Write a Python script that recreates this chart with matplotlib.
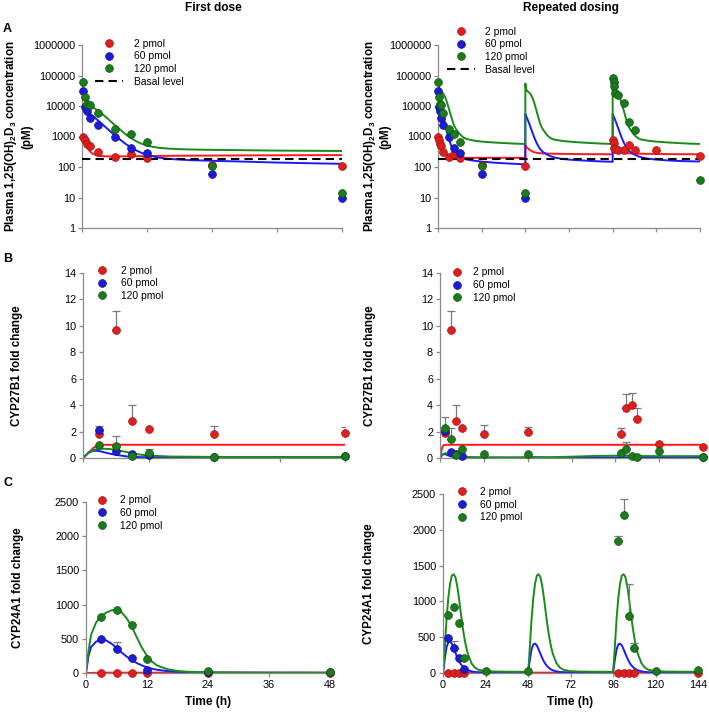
import numpy as np
import matplotlib
matplotlib.use("Agg")
import matplotlib.pyplot as plt

plt.rcParams['font.family'] = ['Liberation Sans', 'DejaVu Sans']
plt.rcParams['mathtext.fontset'] = 'custom'
plt.rcParams['mathtext.rm'] = 'Liberation Sans'
plt.rcParams['mathtext.bf'] = 'Liberation Sans:bold'

nan = np.nan
labels = ['2 pmol', '60 pmol', '120 pmol']
basal_level = 185

# ---------- A: plasma 1,25(OH)2D3, points ----------
tA_pts = [0.25, 0.5, 1, 1.5, 3, 6, 9, 12, 24, 48]
A_red = [1000, 750, 550, 480, 300, 220, 260, 200, 115, 110]
A_blue = [31000, 9000, 7000, 4000, 2300, 950, 430, 290, 58, 10]
A_green = [62000, 20000, 12000, 11000, 6000, 1800, 1250, 650, 105, 14]
tA_pts3 = [96.25, 96.5, 97, 97.5, 99, 102, 105, 108, 120, 144]
A_red3 = [780, 620, 410, 400, 360, 360, 520, 360, 350, 230]
A_green3 = [81000, 63000, 46000, 26000, 23000, 13000, 3100, 1600, nan, 37]

# A first dose, model fits
tA_fit = [0, 0.5, 1, 1.5, 2, 3, 4, 5, 6, 7, 8, 9, 10, 11, 12, 14, 16, 18, 20, 24, 30, 36, 42, 48]
A_fit_red = [900, 600, 420, 320, 270, 235, 225, 222, 222, 223, 224, 225, 226, 227, 228, 230, 232,
             234, 235, 237, 240, 242, 244, 245]
A_fit_blue = [9000, 7500, 6500, 5500, 4700, 3300, 2300, 1600, 1100, 800, 580, 440, 350, 290, 250,
              205, 185, 175, 168, 160, 150, 140, 133, 127]
A_fit_green = [12000, 11000, 10500, 10000, 9000, 7000, 5000, 3500, 2400, 1700, 1200, 900, 700, 580,
               500, 430, 400, 385, 375, 365, 355, 345, 340, 335]

# A repeated dosing, model fits
tA2_fit = [0, 0.5, 1, 2, 3, 4, 5, 6, 7, 8, 9, 10, 12, 14, 16, 20, 24, 30, 36, 42, 48,
           48, 48.5, 49, 50, 51, 52, 53, 54, 55, 56, 57, 58, 60, 62, 64, 68, 72, 78, 84, 90, 96,
           96, 96.5, 97, 98, 99, 100, 101, 102, 103, 104, 105, 106, 108, 110, 112, 116, 120, 126, 132, 138, 144]
A2_fit_red = [1100, 750, 560, 420, 340, 290, 255, 235, 222, 213, 207, 204, 201, 200, 200, 200, 200, 200, 200, 200, 200,
              520, 470, 430, 380, 345, 320, 305, 295, 288, 284, 281, 279, 276, 274, 272, 270, 268, 265, 263, 262, 260,
              520, 470, 430, 380, 345, 320, 305, 295, 288, 284, 281, 279, 276, 274, 272, 270, 268, 265, 263, 262, 260]
A2_fit_blue = [30000, 20000, 14000, 8000, 4500, 2500, 1400, 850, 550, 400, 320, 270, 220, 190, 175, 160, 150, 140, 133, 127, 122,
               5500, 4600, 3900, 2800, 1900, 1300, 900, 650, 500, 400, 340, 300, 255, 225, 205, 185, 175, 165, 158, 152, 148,
               5500, 4600, 3900, 2800, 1900, 1300, 900, 650, 500, 400, 340, 300, 255, 225, 205, 185, 175, 165, 158, 154, 152]
A2_fit_green = [60000, 42000, 34000, 29000, 25000, 19000, 13000, 8000, 5000, 3200, 2200, 1700, 1200, 920, 820, 730, 680, 640, 610, 585, 570,
                55000, 35000, 31000, 28000, 24000, 18000, 12000, 7500, 4500, 2800, 2000, 1600, 1100, 870, 790, 720, 680, 640, 610, 585, 570,
                55000, 35000, 31000, 28000, 24000, 18000, 12000, 7500, 4500, 2800, 2000, 1600, 1100, 870, 790, 720, 680, 640, 610, 585, 570]

# ---------- B: CYP27B1 ----------
tB_pts = [3, 6, 9, 12, 24, 48]
B_red = [1.85, 9.7, 2.8, 2.2, 1.8, 1.9]
B_red_top = [nan, 11.1, 4.0, nan, 2.4, 2.35]
B_blue = [2.1, 0.55, 0.3, 0.2, 0.1, 0.12]
B_blue_top = [2.45, nan, nan, nan, nan, nan]
B_green = [1.0, 0.9, 0.12, 0.35, 0.1, 0.18]
B_green_top = [nan, 1.7, nan, 0.65, nan, nan]

tB_fit = [0, 1, 2, 3, 4, 5, 6, 8, 10, 12, 16, 24, 36, 48]
B_fit_red = [0, 0.4, 0.8, 0.97, 1.0, 1.0, 1.0, 1.0, 1.0, 1.0, 1.0, 1.0, 1.0, 1.0]
B_fit_blue = [0, 0.4, 0.56, 0.52, 0.42, 0.32, 0.24, 0.12, 0.07, 0.05, 0.04, 0.03, 0.03, 0.03]
B_fit_green = [0, 0.4, 0.62, 0.7, 0.7, 0.67, 0.62, 0.45, 0.28, 0.18, 0.11, 0.08, 0.08, 0.08]

tB2_pts = [3, 6, 9, 12, 24, 48, 99, 102, 105, 108, 120, 144]
B2_red = [1.92, 9.7, 2.83, 2.25, 1.82, 1.94, 1.8, 3.75, 4.03, 2.94, 1.04, 0.86]
B2_red_top = [nan, 11.1, 4.0, nan, 2.5, 2.35, 2.3, 4.84, 4.94, 3.8, nan, nan]
B2_blue = [2.05, 0.48, 0.3, 0.15, nan, nan, nan, nan, nan, nan, nan, 0.05]
B2_green = [2.3, 1.45, 0.25, 0.7, 0.28, 0.28, 0.38, 0.65, 0.12, 0.05, 0.53, 0.1]
B2_green_top = [3.1, 2.27, nan, nan, nan, nan, nan, 1.19, nan, nan, nan, nan]

tB2_fit_red = [0, 0.5, 1, 1.5, 2, 3, 144]
B2_fit_red = [0, 0.35, 0.7, 0.9, 0.97, 1.0, 1.0]
tB2_fit_blue = [0, 1, 2, 3, 4, 6, 9, 12, 24, 48, 50, 54, 60, 96, 98, 102, 108, 144]
B2_fit_blue = [0, 0.2, 0.3, 0.28, 0.22, 0.12, 0.06, 0.04, 0.03, 0.03, 0.06, 0.05, 0.03, 0.03, 0.06, 0.05, 0.03, 0.03]
tB2_fit_green = [0, 1, 2, 3, 4, 6, 9, 12, 24, 36, 48, 60, 72, 84, 96, 100, 104, 108, 120, 144]
B2_fit_green = [0, 0.2, 0.32, 0.36, 0.33, 0.22, 0.12, 0.08, 0.05, 0.04, 0.05, 0.06, 0.1, 0.15, 0.17, 0.2, 0.18, 0.15, 0.14, 0.14]

# ---------- C: CYP24A1 ----------
tC_pts = [3, 6, 9, 12, 24, 48]
C_red = [6, 6, 5, 5, 4, 4]
C_blue = [490, 355, 215, 50, 15, 10]
C_blue_top = [nan, 450, nan, nan, nan, nan]
C_green = [815, 920, 700, 205, 25, 15]

tC_fit = [0, 0.5, 1, 2, 3, 4, 5, 6, 7, 8, 9, 10, 11, 12, 13, 14, 16, 18, 20, 24, 30, 36, 48]
C_fit_green = [0, 330, 560, 740, 830, 885, 915, 922, 890, 800, 680, 520, 370, 250, 165, 110, 55, 30, 18, 10, 7, 5, 4]
C_fit_blue = [0, 250, 380, 460, 485, 475, 430, 370, 300, 240, 190, 145, 110, 82, 62, 47, 28, 17, 11, 6, 4, 3, 2]
tC_fit_red = [0, 3, 48]
C_fit_red = [0, 5, 5]

tC2_pts1 = [3, 6, 9, 12, 24, 48]
C2_red1 = [6, 6, 6, 6, nan, nan]
C2_blue1 = [490, 355, 215, 50, nan, nan]
C2_blue1_top = [nan, 450, nan, nan, nan, nan]
C2_green1 = [815, 920, 700, 205, 25, 25]
tC2_pts3 = [99, 102, 105, 108, 120, 144]
C2_red3 = [6, 6, 6, 6, nan, 6]
C2_green3 = [1840, 2200, 800, 345, 30, 35]
C2_green3_top = [1920, 2430, 1240, 420, nan, nan]

tC2_fit = [0, 0.5, 1, 2, 3, 4, 5, 6, 7, 8, 9, 10, 11, 12, 13, 14, 16, 18, 20, 24, 30, 36, 42,
           48, 48.5, 49, 50, 51, 52, 53, 54, 55, 56, 57, 58, 59, 60, 61, 62, 64, 66, 68, 72, 78, 84, 90,
           96, 96.5, 97, 98, 99, 100, 101, 102, 103, 104, 105, 106, 107, 108, 109, 110, 112, 114, 116, 120, 126, 132, 138, 144]
C2_fit_green = [0, 150, 350, 750, 1050, 1250, 1360, 1380, 1340, 1220, 1050, 850, 660, 500, 370, 270, 140, 75, 45, 25, 20, 18, 17,
                16, 150, 350, 750, 1050, 1250, 1360, 1380, 1340, 1220, 1050, 850, 660, 500, 370, 270, 140, 75, 45, 25, 20, 18, 17,
                16, 150, 350, 750, 1050, 1250, 1360, 1380, 1340, 1220, 1050, 850, 660, 500, 370, 270, 140, 75, 45, 25, 20, 18, 17, 16]
C2_fit_blue = [0, 90, 200, 360, 430, 440, 410, 350, 285, 220, 168, 126, 94, 70, 52, 40, 23, 14, 10, 6, 4, 3, 3,
               3, 80, 180, 330, 400, 410, 385, 330, 270, 210, 160, 120, 90, 68, 50, 38, 22, 14, 10, 6, 4, 3, 3,
               3, 80, 180, 330, 400, 410, 385, 330, 270, 210, 160, 120, 90, 68, 50, 38, 22, 14, 10, 6, 4, 3, 3, 3]
tC2_fit_red = [0, 2, 144]
C2_fit_red = [0, 5, 5]

# ---------- styling ----------
pt_col = ['#e01e1e', '#1c1cd6', '#1b7c1b']
pt_edge = ['#a01414', '#10108c', '#0f4f0f']
ln_col = ['#ff1a1a', '#1a1aff', '#1a8a1a']
axis_grey = '#8a8a8a'
W, H = 709, 712

fig = plt.figure(figsize=(W / 100, H / 100), dpi=100)


def px_axes(x0, x1, y0, y1):
    return fig.add_axes([x0 / W, 1 - y1 / H, (x1 - x0) / W, (y1 - y0) / H])


def style(ax, xmax, step, show_x):
    for s in ['top', 'right']:
        ax.spines[s].set_visible(False)
    for s in ['left', 'bottom']:
        ax.spines[s].set_color(axis_grey)
        ax.spines[s].set_linewidth(0.9)
    ax.tick_params(direction='out', length=3, width=0.9, color=axis_grey, labelsize=7.8, pad=2)
    ax.set_xlim(0, xmax)
    ax.set_xticks(np.arange(0, xmax + 1, step))
    if not show_x:
        ax.set_xticklabels([])
    else:
        ax.set_xlabel('Time (h)', fontsize=8.6, fontweight='bold', labelpad=4)


def points(ax, t, y, i, label=None):
    return ax.plot(t, y, 'o', ms=5.6, mfc=pt_col[i], mec=pt_edge[i], mew=0.5,
                   clip_on=False, zorder=5, label=label)[0]


def errs(ax, t, y, top):
    t = np.array(t, float)
    y = np.array(y, float)
    top = np.array(top, float)
    m = ~np.isnan(top)
    ax.errorbar(t[m], y[m], yerr=[np.zeros(m.sum()), top[m] - y[m]], fmt='none',
                ecolor='#7a7a7a', elinewidth=0.9, capsize=2.6, capthick=0.9, zorder=3)


def fit(ax, t, y, i):
    ax.plot(t, y, '-', color=ln_col[i], lw=1.4, zorder=2)


def legend(ax, handles, x, y, textpad, hlen=1.5):
    ax.legend(handles=handles, loc='upper left', bbox_to_anchor=(x, y), frameon=False,
              fontsize=7.4, handlelength=hlen, handletextpad=textpad, labelspacing=0.26,
              borderpad=0, borderaxespad=0, numpoints=1)


log_ticks = [1, 10, 100, 1000, 10000, 100000, 1000000]
ylab_A = 'Plasma 1,25(OH)$_\\mathbf{2}$D$_\\mathbf{3}$ concentration\n(pM)'

# ---- A left
ax = px_axes(82, 342, 45, 228)
style(ax, 48, 12, False)
ax.set_yscale('log')
ax.set_ylim(1, 1000000)
ax.set_yticks(log_ticks)
ax.set_yticklabels([str(v) for v in log_ticks])
ax.yaxis.set_minor_locator(matplotlib.ticker.NullLocator())
fit(ax, tA_fit, A_fit_red, 0)
fit(ax, tA_fit, A_fit_blue, 1)
fit(ax, tA_fit, A_fit_green, 2)
bl = ax.plot([0, 48], [basal_level, basal_level], '--', color='black', lw=1.5, dashes=(4, 2.5),
             zorder=3, label='Basal level')[0]
h = [points(ax, tA_pts, A_red, 0, labels[0]), points(ax, tA_pts, A_blue, 1, labels[1]),
     points(ax, tA_pts, A_green, 2, labels[2]), bl]
legend(ax, h, 0.05, 1.035, 1.1, hlen=2.7)
ax.set_ylabel(ylab_A, fontsize=8.4, fontweight='bold', va='center', multialignment='center')
ax.yaxis.set_label_coords(-0.245, 0.5)

# ---- A right
ax = px_axes(438, 700, 45, 228)
style(ax, 144, 24, False)
ax.set_yscale('log')
ax.set_ylim(1, 1000000)
ax.set_yticks(log_ticks)
ax.set_yticklabels([str(v) for v in log_ticks])
ax.yaxis.set_minor_locator(matplotlib.ticker.NullLocator())
fit(ax, tA2_fit, A2_fit_red, 0)
fit(ax, tA2_fit, A2_fit_blue, 1)
fit(ax, tA2_fit, A2_fit_green, 2)
bl = ax.plot([0, 144], [basal_level, basal_level], '--', color='black', lw=1.5, dashes=(4, 2.5),
             zorder=3, label='Basal level')[0]
h = [points(ax, tA_pts, A_red, 0, labels[0]), points(ax, tA_pts, A_blue, 1, labels[1]),
     points(ax, tA_pts, A_green, 2, labels[2]), bl]
points(ax, tA_pts3, A_red3, 0)
points(ax, tA_pts3, A_green3, 2)
legend(ax, h, 0.034, 1.1, 1.0, hlen=2.7)
ax.set_ylabel(ylab_A, fontsize=8.4, fontweight='bold', va='center', multialignment='center')
ax.yaxis.set_label_coords(-0.235, 0.5)

# ---- B left
ax = px_axes(83, 345, 273, 458)
style(ax, 48, 12, False)
ax.set_ylim(0, 14)
ax.set_yticks(range(0, 15, 2))
fit(ax, tB_fit, B_fit_red, 0)
fit(ax, tB_fit, B_fit_blue, 1)
fit(ax, tB_fit, B_fit_green, 2)
errs(ax, tB_pts, B_red, B_red_top)
errs(ax, tB_pts, B_blue, B_blue_top)
errs(ax, tB_pts, B_green, B_green_top)
h = [points(ax, tB_pts, B_red, 0, labels[0]), points(ax, tB_pts, B_blue, 1, labels[1]),
     points(ax, tB_pts, B_green, 2, labels[2])]
legend(ax, h, 0.042, 1.04, 1.1)
ax.set_ylabel('CYP27B1 fold change', fontsize=8.4, fontweight='bold', va='center')
ax.yaxis.set_label_coords(-0.25, 0.5)

# ---- B right
ax = px_axes(440, 703, 273, 458)
style(ax, 144, 24, False)
ax.set_ylim(0, 14)
ax.set_yticks(range(0, 15, 2))
fit(ax, tB2_fit_red, B2_fit_red, 0)
fit(ax, tB2_fit_blue, B2_fit_blue, 1)
fit(ax, tB2_fit_green, B2_fit_green, 2)
errs(ax, tB2_pts, B2_red, B2_red_top)
errs(ax, tB2_pts, B2_green, B2_green_top)
h = [points(ax, tB2_pts, B2_red, 0, labels[0]), points(ax, tB2_pts, B2_blue, 1, labels[1]),
     points(ax, tB2_pts, B2_green, 2, labels[2])]
legend(ax, h, 0.034, 1.03, 0.8)
ax.set_ylabel('CYP27B1 fold change', fontsize=8.4, fontweight='bold', va='center')
ax.yaxis.set_label_coords(-0.266, 0.5)

# ---- C left
ax = px_axes(86, 330, 502, 673)
style(ax, 48, 12, True)
ax.set_ylim(0, 2500)
ax.set_yticks(range(0, 2501, 500))
fit(ax, tC_fit_red, C_fit_red, 0)
fit(ax, tC_fit, C_fit_blue, 1)
fit(ax, tC_fit, C_fit_green, 2)
errs(ax, tC_pts, C_blue, C_blue_top)
h = [points(ax, tC_pts, C_red, 0, labels[0]), points(ax, tC_pts, C_blue, 1, labels[1]),
     points(ax, tC_pts, C_green, 2, labels[2])]
legend(ax, h, 0.033, 1.04, 1.0)
ax.set_ylabel('CYP24A1 fold change', fontsize=8.4, fontweight='bold', va='center')
ax.yaxis.set_label_coords(-0.28, 0.5)

# ---- C right
ax = px_axes(443, 698, 494, 673)
style(ax, 144, 24, True)
ax.set_ylim(0, 2500)
ax.set_yticks(range(0, 2501, 500))
fit(ax, tC2_fit_red, C2_fit_red, 0)
fit(ax, tC2_fit, C2_fit_blue, 1)
fit(ax, tC2_fit, C2_fit_green, 2)
errs(ax, tC2_pts1, C2_blue1, C2_blue1_top)
errs(ax, tC2_pts3, C2_green3, C2_green3_top)
h = [points(ax, tC2_pts1, C2_red1, 0, labels[0]), points(ax, tC2_pts1, C2_blue1, 1, labels[1]),
     points(ax, tC2_pts1, C2_green1, 2, labels[2])]
points(ax, tC2_pts3, C2_red3, 0)
points(ax, tC2_pts3, C2_green3, 2)
legend(ax, h, 0.043, 1.04, 1.0)
ax.set_ylabel('CYP24A1 fold change', fontsize=8.4, fontweight='bold', va='center')
ax.yaxis.set_label_coords(-0.29, 0.5)

# titles and panel letters
fig.text(213 / W, 1 - 8 / H, 'First dose', ha='center', va='center', fontsize=8.6, fontweight='bold')
fig.text(571 / W, 1 - 8 / H, 'Repeated dosing', ha='center', va='center', fontsize=8.6, fontweight='bold')
for letter, yp in [('A', 29), ('B', 259), ('C', 483)]:
    fig.text(3 / W, 1 - yp / H, letter, ha='left', va='center', fontsize=9, fontweight='bold')

fig.savefig('out.png', dpi=100)
